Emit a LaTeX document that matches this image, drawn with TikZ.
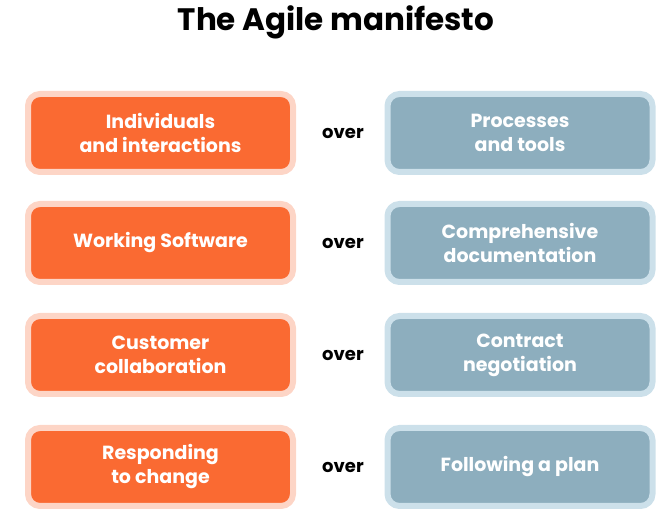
\documentclass[tikz,border=0pt]{standalone}
\usepackage{fontspec}
\setmainfont{Poppins}
\definecolor{agileorange}{HTML}{FA6A32}
\definecolor{agilepeach}{HTML}{FDD5C6}
\definecolor{agileblue}{HTML}{8DAEBE}
\definecolor{agilesky}{HTML}{CCE0EA}
\begin{document}
\begin{tikzpicture}
[x=1pt, y=1pt,
 value/.style={rounded corners=12pt, line width=6pt, minimum width=265pt, minimum height=78pt,
   align=center, text=white, font=\fontsize{19}{24}\selectfont\bfseries, inner sep=0pt},
 good/.style={value, fill=agileorange, draw=agilepeach},
 other/.style={value, fill=agileblue, draw=agilesky},
 over/.style={font=\fontsize{18}{22}\selectfont\bfseries}]
\useasboundingbox (0,0) rectangle (657,512);
\node (title) at (336,490) {\fontsize{31}{36}\selectfont\bfseries The Agile manifesto};
% rows
\node (i1) [good] at (160.5,379) {Individuals\\and interactions};
\node (o1) [over] at (343,379) {over};
\node (p1) [other] at (520,379) {Processes\\and tools};
\node (i2) [good] at (160.5,269) {Working Software};
\node (o2) [over] at (343,269) {over};
\node (p2) [other] at (520,269) {Comprehensive\\documentation};
\node (i3) [good] at (160.5,157) {Customer\\collaboration};
\node (o3) [over] at (343,157) {over};
\node (p3) [other] at (520,157) {Contract\\negotiation};
\node (i4) [good] at (160.5,45) {Responding\\to change};
\node (o4) [over] at (343,45) {over};
\node (p4) [other] at (520,45) {Following a plan};
\end{tikzpicture}
\end{document}
